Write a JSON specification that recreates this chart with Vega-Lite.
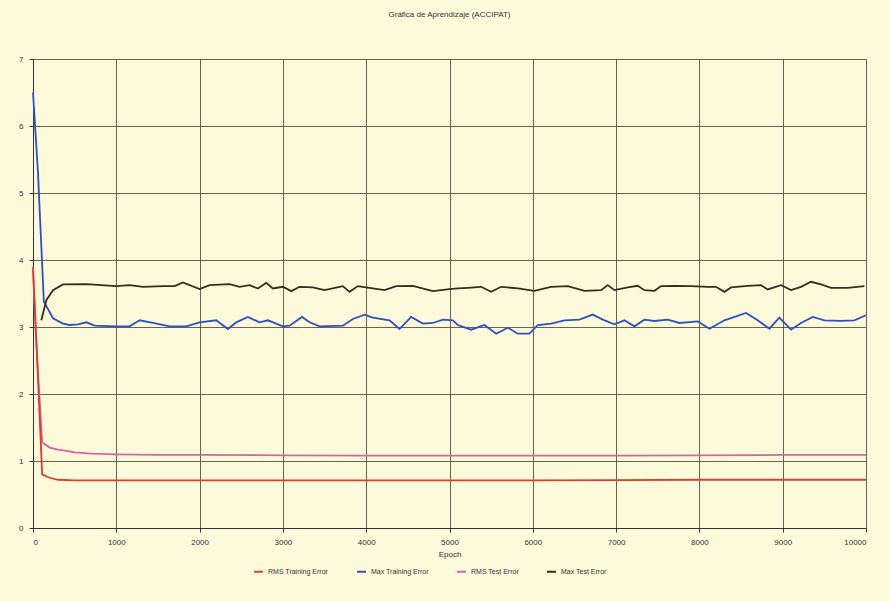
{
  "$schema": "https://vega.github.io/schema/vega-lite/v6.json",
  "autosize": "none",
  "width": 833,
  "height": 469,
  "padding": {"left": 33, "top": 59, "right": 24, "bottom": 73},
  "background": "#fcfadb",
  "title": {"text": "Gráfica de Aprendizaje (ACCIPAT)", "fontSize": 8, "fontWeight": "normal", "font": "Liberation Sans", "color": "#333", "offset": 36, "anchor": "middle"},
  "config": {
    "view": {"stroke": null, "fill": "#fcfadb"},
    "axis": {"labelFont": "Liberation Sans", "titleFont": "Liberation Sans", "labelFontSize": 8, "titleFontSize": 8, "titleFontWeight": "normal", "labelColor": "#333", "titleColor": "#333", "gridColor": "#4a4a3a", "gridOpacity": 0.85, "gridWidth": 1, "domainColor": "#333", "tickColor": "#333", "tickSize": 4}
  },
  "data": {"values": [
    {"epoch":0,"s":"Max Training Error","v":6.5},{"epoch":25,"s":"Max Training Error","v":6.0},{"epoch":60,"s":"Max Training Error","v":5.3},{"epoch":130,"s":"Max Training Error","v":3.38},{"epoch":240,"s":"Max Training Error","v":3.13},{"epoch":360,"s":"Max Training Error","v":3.05},{"epoch":440,"s":"Max Training Error","v":3.03},{"epoch":540,"s":"Max Training Error","v":3.04},{"epoch":640,"s":"Max Training Error","v":3.07},{"epoch":740,"s":"Max Training Error","v":3.02},{"epoch":1000,"s":"Max Training Error","v":3.01},{"epoch":1160,"s":"Max Training Error","v":3.01},{"epoch":1280,"s":"Max Training Error","v":3.1},{"epoch":1440,"s":"Max Training Error","v":3.06},{"epoch":1640,"s":"Max Training Error","v":3.01},{"epoch":1840,"s":"Max Training Error","v":3.01},{"epoch":2000,"s":"Max Training Error","v":3.07},{"epoch":2200,"s":"Max Training Error","v":3.1},{"epoch":2340,"s":"Max Training Error","v":2.97},{"epoch":2440,"s":"Max Training Error","v":3.07},{"epoch":2580,"s":"Max Training Error","v":3.15},{"epoch":2720,"s":"Max Training Error","v":3.07},{"epoch":2820,"s":"Max Training Error","v":3.1},{"epoch":3000,"s":"Max Training Error","v":3.01},{"epoch":3080,"s":"Max Training Error","v":3.02},{"epoch":3230,"s":"Max Training Error","v":3.15},{"epoch":3320,"s":"Max Training Error","v":3.07},{"epoch":3440,"s":"Max Training Error","v":3.01},{"epoch":3720,"s":"Max Training Error","v":3.02},{"epoch":3840,"s":"Max Training Error","v":3.12},{"epoch":3980,"s":"Max Training Error","v":3.185},{"epoch":4080,"s":"Max Training Error","v":3.14},{"epoch":4280,"s":"Max Training Error","v":3.1},{"epoch":4400,"s":"Max Training Error","v":2.97},{"epoch":4540,"s":"Max Training Error","v":3.15},{"epoch":4680,"s":"Max Training Error","v":3.05},{"epoch":4800,"s":"Max Training Error","v":3.06},{"epoch":4920,"s":"Max Training Error","v":3.11},{"epoch":5040,"s":"Max Training Error","v":3.1},{"epoch":5100,"s":"Max Training Error","v":3.03},{"epoch":5260,"s":"Max Training Error","v":2.96},{"epoch":5420,"s":"Max Training Error","v":3.03},{"epoch":5560,"s":"Max Training Error","v":2.9},{"epoch":5700,"s":"Max Training Error","v":2.99},{"epoch":5820,"s":"Max Training Error","v":2.9},{"epoch":5960,"s":"Max Training Error","v":2.9},{"epoch":6060,"s":"Max Training Error","v":3.03},{"epoch":6220,"s":"Max Training Error","v":3.05},{"epoch":6380,"s":"Max Training Error","v":3.1},{"epoch":6560,"s":"Max Training Error","v":3.11},{"epoch":6720,"s":"Max Training Error","v":3.185},{"epoch":6840,"s":"Max Training Error","v":3.11},{"epoch":6980,"s":"Max Training Error","v":3.04},{"epoch":7100,"s":"Max Training Error","v":3.1},{"epoch":7220,"s":"Max Training Error","v":3.01},{"epoch":7340,"s":"Max Training Error","v":3.11},{"epoch":7460,"s":"Max Training Error","v":3.09},{"epoch":7620,"s":"Max Training Error","v":3.11},{"epoch":7760,"s":"Max Training Error","v":3.06},{"epoch":7980,"s":"Max Training Error","v":3.085},{"epoch":8120,"s":"Max Training Error","v":2.975},{"epoch":8300,"s":"Max Training Error","v":3.1},{"epoch":8560,"s":"Max Training Error","v":3.21},{"epoch":8700,"s":"Max Training Error","v":3.1},{"epoch":8840,"s":"Max Training Error","v":2.975},{"epoch":8960,"s":"Max Training Error","v":3.14},{"epoch":9100,"s":"Max Training Error","v":2.96},{"epoch":9220,"s":"Max Training Error","v":3.06},{"epoch":9360,"s":"Max Training Error","v":3.15},{"epoch":9500,"s":"Max Training Error","v":3.1},{"epoch":9700,"s":"Max Training Error","v":3.09},{"epoch":9860,"s":"Max Training Error","v":3.1},{"epoch":10000,"s":"Max Training Error","v":3.175},

    {"epoch":100,"s":"Max Test Error","v":3.1},{"epoch":160,"s":"Max Test Error","v":3.4},{"epoch":240,"s":"Max Test Error","v":3.55},{"epoch":360,"s":"Max Test Error","v":3.635},{"epoch":640,"s":"Max Test Error","v":3.64},{"epoch":1000,"s":"Max Test Error","v":3.61},{"epoch":1160,"s":"Max Test Error","v":3.625},{"epoch":1320,"s":"Max Test Error","v":3.6},{"epoch":1560,"s":"Max Test Error","v":3.61},{"epoch":1700,"s":"Max Test Error","v":3.61},{"epoch":1800,"s":"Max Test Error","v":3.665},{"epoch":2000,"s":"Max Test Error","v":3.565},{"epoch":2120,"s":"Max Test Error","v":3.625},{"epoch":2360,"s":"Max Test Error","v":3.64},{"epoch":2480,"s":"Max Test Error","v":3.6},{"epoch":2600,"s":"Max Test Error","v":3.625},{"epoch":2700,"s":"Max Test Error","v":3.575},{"epoch":2800,"s":"Max Test Error","v":3.66},{"epoch":2880,"s":"Max Test Error","v":3.575},{"epoch":3000,"s":"Max Test Error","v":3.6},{"epoch":3100,"s":"Max Test Error","v":3.535},{"epoch":3200,"s":"Max Test Error","v":3.6},{"epoch":3360,"s":"Max Test Error","v":3.59},{"epoch":3500,"s":"Max Test Error","v":3.55},{"epoch":3720,"s":"Max Test Error","v":3.61},{"epoch":3800,"s":"Max Test Error","v":3.525},{"epoch":3900,"s":"Max Test Error","v":3.61},{"epoch":4080,"s":"Max Test Error","v":3.575},{"epoch":4220,"s":"Max Test Error","v":3.55},{"epoch":4360,"s":"Max Test Error","v":3.61},{"epoch":4560,"s":"Max Test Error","v":3.615},{"epoch":4800,"s":"Max Test Error","v":3.535},{"epoch":5000,"s":"Max Test Error","v":3.565},{"epoch":5100,"s":"Max Test Error","v":3.575},{"epoch":5220,"s":"Max Test Error","v":3.585},{"epoch":5380,"s":"Max Test Error","v":3.6},{"epoch":5500,"s":"Max Test Error","v":3.525},{"epoch":5620,"s":"Max Test Error","v":3.6},{"epoch":5820,"s":"Max Test Error","v":3.575},{"epoch":6020,"s":"Max Test Error","v":3.54},{"epoch":6220,"s":"Max Test Error","v":3.6},{"epoch":6420,"s":"Max Test Error","v":3.61},{"epoch":6620,"s":"Max Test Error","v":3.54},{"epoch":6820,"s":"Max Test Error","v":3.55},{"epoch":6900,"s":"Max Test Error","v":3.625},{"epoch":6980,"s":"Max Test Error","v":3.55},{"epoch":7140,"s":"Max Test Error","v":3.59},{"epoch":7260,"s":"Max Test Error","v":3.615},{"epoch":7340,"s":"Max Test Error","v":3.55},{"epoch":7460,"s":"Max Test Error","v":3.54},{"epoch":7540,"s":"Max Test Error","v":3.61},{"epoch":7700,"s":"Max Test Error","v":3.615},{"epoch":7900,"s":"Max Test Error","v":3.61},{"epoch":8100,"s":"Max Test Error","v":3.6},{"epoch":8200,"s":"Max Test Error","v":3.6},{"epoch":8300,"s":"Max Test Error","v":3.525},{"epoch":8380,"s":"Max Test Error","v":3.59},{"epoch":8580,"s":"Max Test Error","v":3.615},{"epoch":8740,"s":"Max Test Error","v":3.625},{"epoch":8820,"s":"Max Test Error","v":3.56},{"epoch":8980,"s":"Max Test Error","v":3.625},{"epoch":9100,"s":"Max Test Error","v":3.55},{"epoch":9220,"s":"Max Test Error","v":3.6},{"epoch":9340,"s":"Max Test Error","v":3.675},{"epoch":9460,"s":"Max Test Error","v":3.635},{"epoch":9580,"s":"Max Test Error","v":3.585},{"epoch":9780,"s":"Max Test Error","v":3.585},{"epoch":9980,"s":"Max Test Error","v":3.61},

    {"epoch":0,"s":"RMS Test Error","v":3.85},{"epoch":40,"s":"RMS Test Error","v":2.75},{"epoch":110,"s":"RMS Test Error","v":1.28},{"epoch":200,"s":"RMS Test Error","v":1.2},{"epoch":300,"s":"RMS Test Error","v":1.17},{"epoch":400,"s":"RMS Test Error","v":1.15},{"epoch":500,"s":"RMS Test Error","v":1.13},{"epoch":700,"s":"RMS Test Error","v":1.11},{"epoch":1000,"s":"RMS Test Error","v":1.1},{"epoch":1500,"s":"RMS Test Error","v":1.09},{"epoch":2000,"s":"RMS Test Error","v":1.09},{"epoch":3000,"s":"RMS Test Error","v":1.085},{"epoch":4000,"s":"RMS Test Error","v":1.08},{"epoch":5000,"s":"RMS Test Error","v":1.08},{"epoch":6000,"s":"RMS Test Error","v":1.08},{"epoch":7000,"s":"RMS Test Error","v":1.08},{"epoch":8000,"s":"RMS Test Error","v":1.085},{"epoch":9000,"s":"RMS Test Error","v":1.09},{"epoch":10000,"s":"RMS Test Error","v":1.09},

    {"epoch":0,"s":"RMS Training Error","v":3.9},{"epoch":40,"s":"RMS Training Error","v":2.8},{"epoch":110,"s":"RMS Training Error","v":0.8},{"epoch":200,"s":"RMS Training Error","v":0.75},{"epoch":300,"s":"RMS Training Error","v":0.72},{"epoch":500,"s":"RMS Training Error","v":0.71},{"epoch":700,"s":"RMS Training Error","v":0.71},{"epoch":1000,"s":"RMS Training Error","v":0.71},{"epoch":1500,"s":"RMS Training Error","v":0.71},{"epoch":2000,"s":"RMS Training Error","v":0.71},{"epoch":3000,"s":"RMS Training Error","v":0.71},{"epoch":4000,"s":"RMS Training Error","v":0.71},{"epoch":5000,"s":"RMS Training Error","v":0.71},{"epoch":6000,"s":"RMS Training Error","v":0.71},{"epoch":7000,"s":"RMS Training Error","v":0.715},{"epoch":8000,"s":"RMS Training Error","v":0.72},{"epoch":9000,"s":"RMS Training Error","v":0.72},{"epoch":10000,"s":"RMS Training Error","v":0.72}
  ]},
  "mark": {"type": "line", "strokeWidth": 1.8},
  "encoding": {
    "x": {"field": "epoch", "type": "quantitative", "title": "Epoch", "scale": {"domain": [0, 10000], "nice": false}, "axis": {"values": [0,1000,2000,3000,4000,5000,6000,7000,8000,9000,10000], "labelPadding": 6, "titlePadding": 4, "format": "d"}},
    "y": {"field": "v", "type": "quantitative", "title": null, "scale": {"domain": [0, 7], "nice": false}, "axis": {"values": [0,1,2,3,4,5,6,7], "labelPadding": 6}},
    "color": {"field": "s", "type": "nominal", "title": null,
      "scale": {"domain": ["RMS Training Error", "Max Training Error", "RMS Test Error", "Max Test Error"], "range": ["#d8402c", "#2f50c2", "#d863a0", "#303020"]},
      "legend": {"orient": "none", "legendX": 220, "legendY": 507, "direction": "horizontal", "columns": 4, "symbolType": "stroke", "symbolSize": 80, "symbolStrokeWidth": 2, "labelFontSize": 7, "labelFont": "Liberation Sans", "labelColor": "#333", "columnPadding": 24, "labelLimit": 120}}
  }
}
